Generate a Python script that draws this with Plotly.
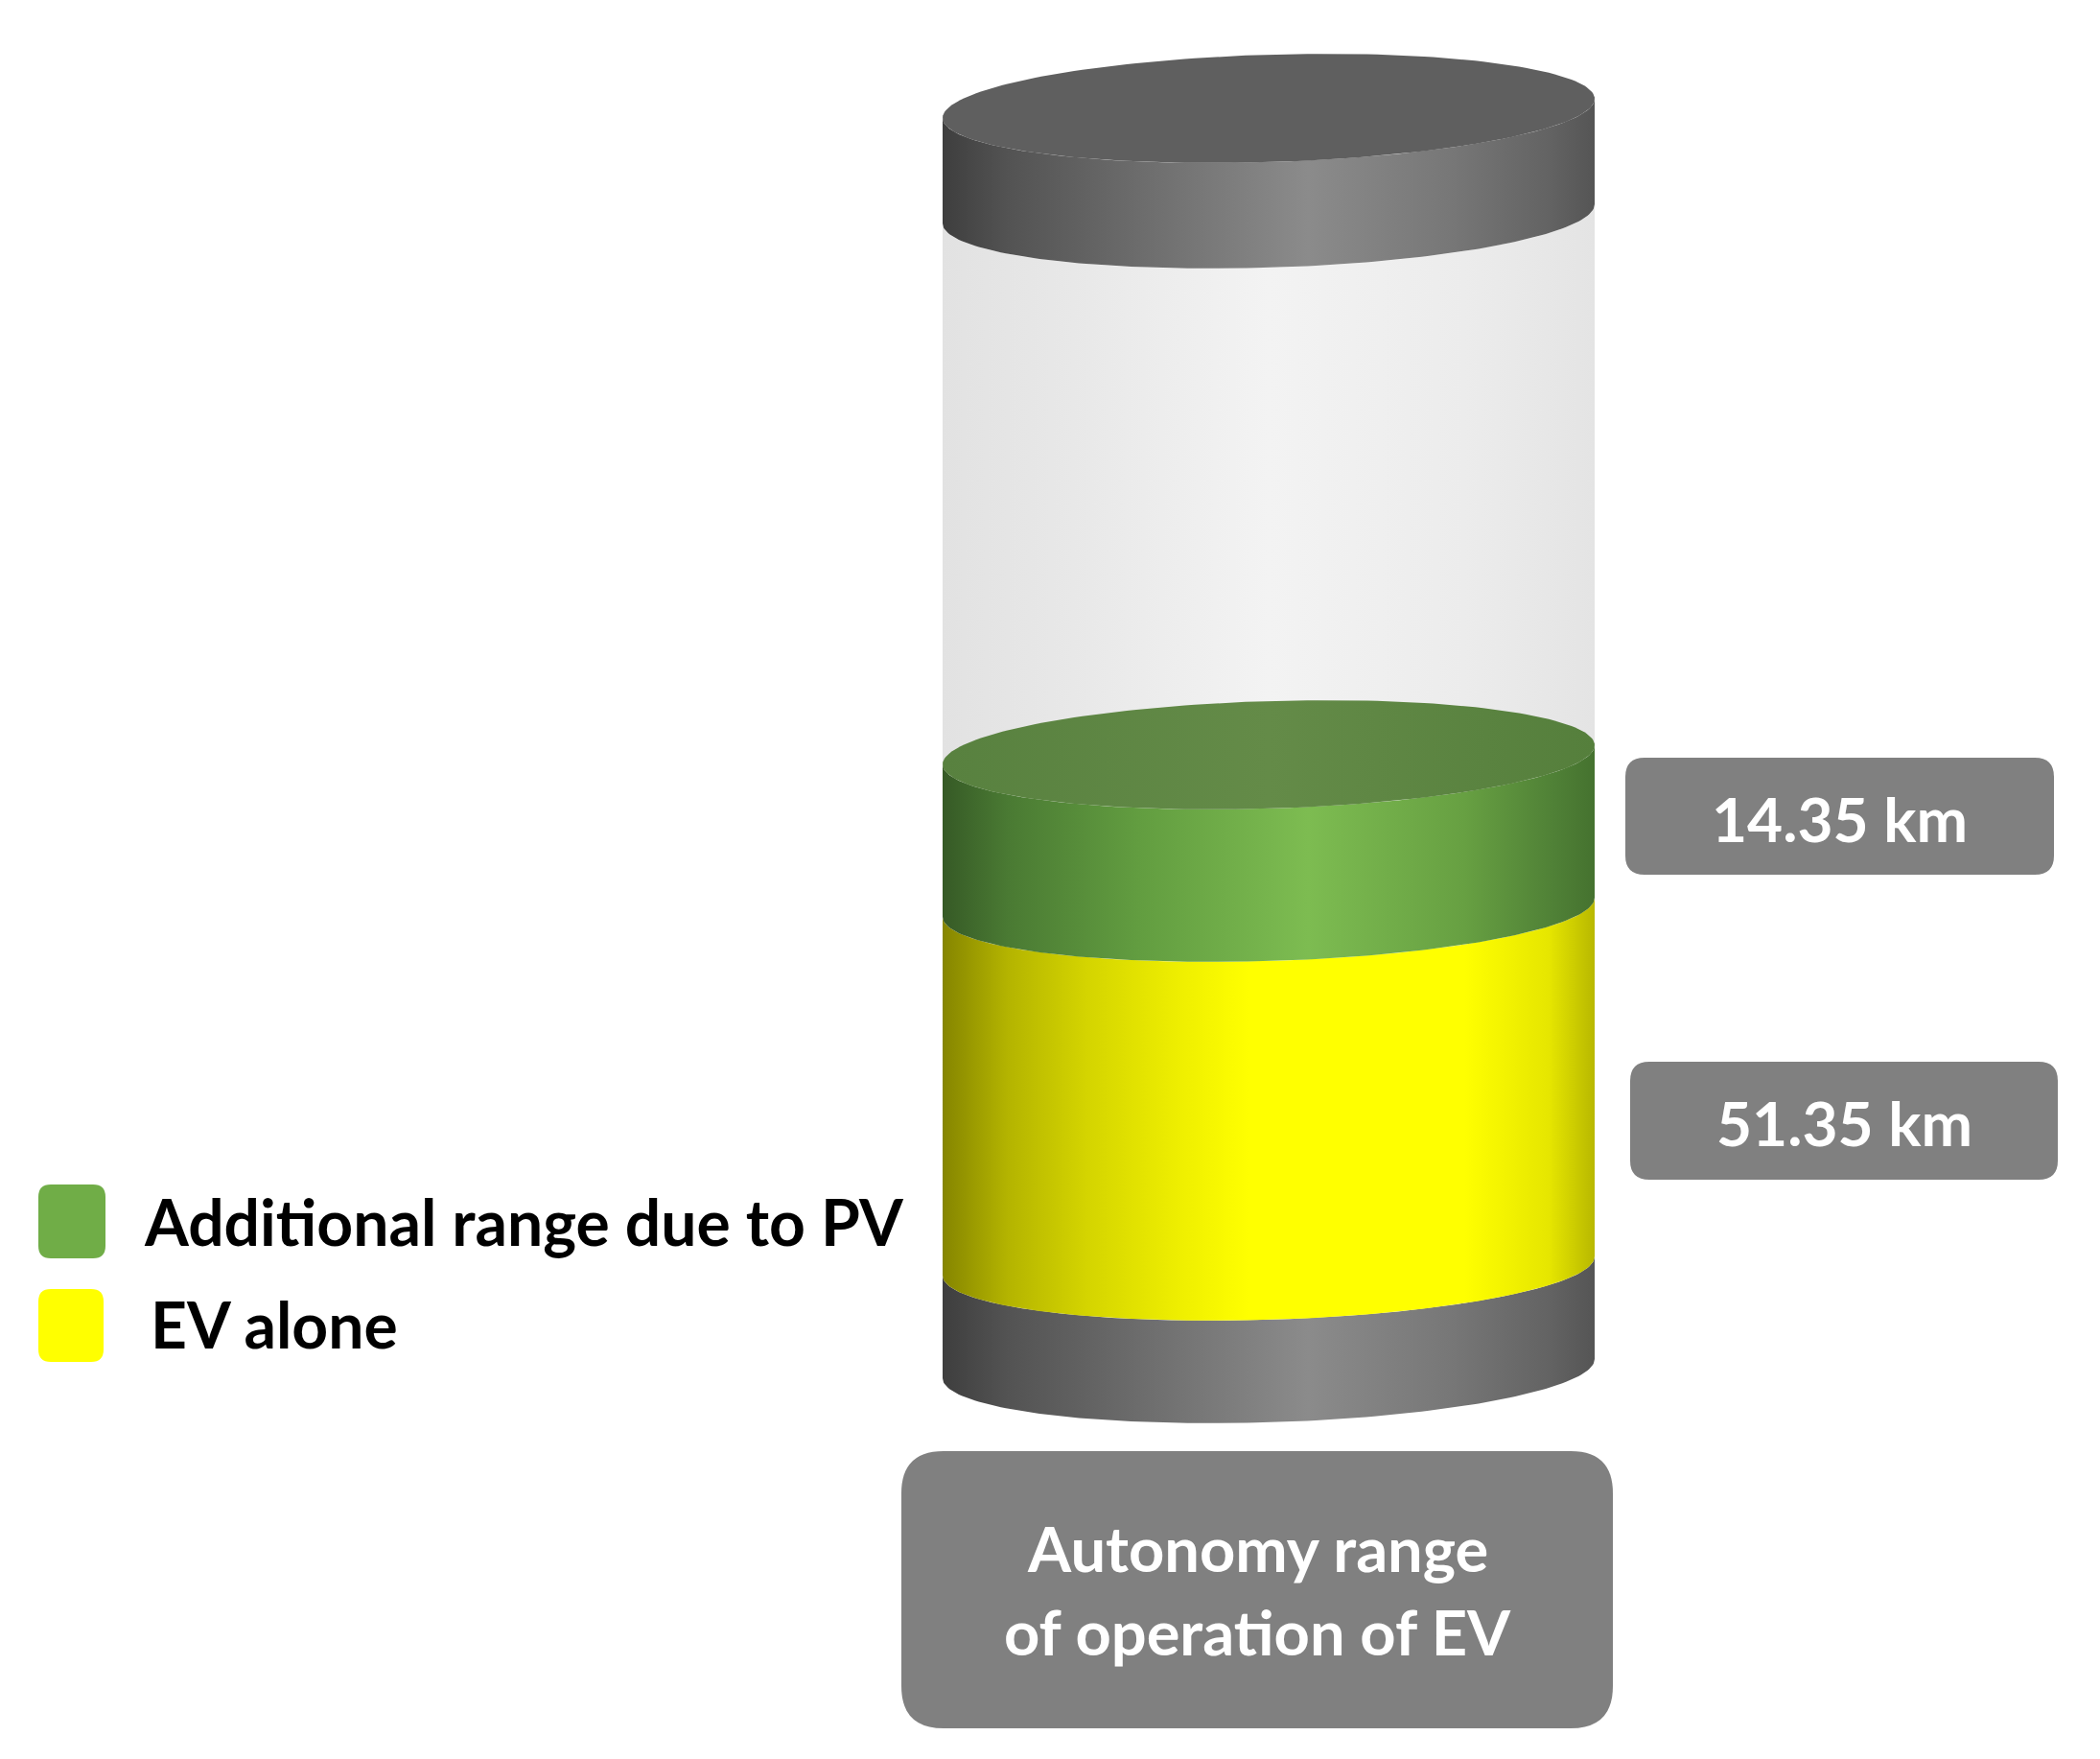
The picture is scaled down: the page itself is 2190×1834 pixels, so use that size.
import numpy as np
import plotly.graph_objects as go

# ---------------- data ----------------
segments = ["EV alone", "Additional range due to PV"]
range_km = [51.35, 14.35]
unit = "km"
axis_title = ["Autonomy range", "of operation of EV"]

# ---------------- layout constants (pixel space) ----------------
W, H = 2190, 1834
BODY_MARGIN = 8  # default page margin around the plot div
CX, RX, RY, TILT = 1323, 340, 56, 10
# centre-line levels of the cylinder parts (top to bottom)
LEV_CAP_TOP, LEV_CAP_BOT = 113, 223
LEV_GREEN_TOP, LEV_GREEN_BOT = 787, 946
LEV_YELLOW_BOT, LEV_BASE_BOT = 1320, 1427

FONT = "Lato"

GRAY_SIDE = [[0, "#3e3e3e"], [0.1, "#535353"], [0.3, "#6c6c6c"], [0.56, "#8b8b8b"],
             [0.78, "#777777"], [0.93, "#636363"], [1, "#555555"]]
GREEN_SIDE = [[0, "#365a26"], [0.1, "#4a7a33"], [0.3, "#629d40"], [0.56, "#7dbc51"],
              [0.8, "#67a042"], [0.94, "#4f8036"], [1, "#45722f"]]
YELLOW_SIDE = [[0, "#858500"], [0.1, "#b4b400"], [0.22, "#d4d400"], [0.36, "#eeee00"],
               [0.47, "#ffff00"], [0.8, "#ffff00"], [0.93, "#e6e600"], [1, "#b8b800"]]
GLASS = [[0, "#e2e2e2"], [0.2, "#e8e8e8"], [0.5, "#f3f3f3"], [0.8, "#ececec"], [1, "#e4e4e4"]]
GREEN_FACE = [[0, "#58813f"], [0.5, "#648b48"], [1, "#557f3c"]]


def arc(cy, t0, t1, n=120):
    t = np.linspace(t0, t1, n)
    x = CX + RX * np.cos(t)
    y = cy + RY * np.sin(t) - TILT * np.cos(t)
    return x, y


def band(cy_top, cy_bot):
    x1, y1 = arc(cy_top, np.pi, 0)
    x2, y2 = arc(cy_bot, 0, np.pi)
    return np.concatenate([x1, x2, x1[:1]]), np.concatenate([y1, y2, y1[:1]])


def face(cy):
    return arc(cy, 0, 2 * np.pi, 200)


fig = go.Figure()


def add_poly(xy, scale=None, color=None):
    x, y = xy
    kw = dict(x=x, y=y, mode="lines", fill="toself", line=dict(width=0),
              hoverinfo="skip", showlegend=False)
    if scale is not None:
        kw["fillgradient"] = dict(type="horizontal", colorscale=scale)
    else:
        kw["fillcolor"] = color
    fig.add_trace(go.Scatter(**kw))


# glass tube
gx1, gy1 = arc(LEV_CAP_BOT, np.pi, 0)
gx2, gy2 = arc(LEV_GREEN_TOP, 0, np.pi)
add_poly((np.concatenate([gx1, gx2, gx1[:1]]), np.concatenate([gy1, gy2, gy1[:1]])), GLASS)
# base cap
add_poly(band(LEV_YELLOW_BOT, LEV_BASE_BOT), GRAY_SIDE)
# EV alone (yellow)
add_poly(band(LEV_GREEN_BOT, LEV_YELLOW_BOT), YELLOW_SIDE)
# additional range due to PV (green)
add_poly(band(LEV_GREEN_TOP, LEV_GREEN_BOT), GREEN_SIDE)
add_poly(face(LEV_GREEN_TOP), GREEN_FACE)
# top cap
add_poly(band(LEV_CAP_TOP, LEV_CAP_BOT), GRAY_SIDE)
add_poly(face(LEV_CAP_TOP), None, "#5f5f5f")


def rrect(x0, y0, x1, y1, r):
    return (f"M{x0+r},{y0} L{x1-r},{y0} Q{x1},{y0} {x1},{y0+r} L{x1},{y1-r} "
            f"Q{x1},{y1} {x1-r},{y1} L{x0+r},{y1} Q{x0},{y1} {x0},{y1-r} "
            f"L{x0},{y0+r} Q{x0},{y0} {x0+r},{y0} Z")


shapes = []
annotations = []

# value boxes (green value on top, yellow below)
value_boxes = {segments[1]: (1695, 790, 2142, 912), segments[0]: (1700, 1107, 2146, 1230)}
for seg, val in zip(segments, range_km):
    x0, y0, x1, y1 = value_boxes[seg]
    shapes.append(dict(type="path", path=rrect(x0, y0, x1, y1, 20), xref="x", yref="y",
                       fillcolor="#808080", line=dict(width=0), layer="above"))
    annotations.append(dict(x=(x0 + x1) / 2, y=(y0 + y1) / 2 + 2, xref="x", yref="y",
                            text=f"{val:.2f} {unit}", showarrow=False,
                            xanchor="center", yanchor="middle",
                            font=dict(family=FONT, size=64, color="white", weight="bold")))

# bottom category box
bx0, by0, bx1, by1 = 940, 1513, 1682, 1802
shapes.append(dict(type="path", path=rrect(bx0, by0, bx1, by1, 44), xref="x", yref="y",
                   fillcolor="#808080", line=dict(width=0), layer="above"))
for i, line in enumerate(axis_title):
    annotations.append(dict(x=(bx0 + bx1) / 2, y=1614 + i * 87, xref="x", yref="y",
                            text=line, showarrow=False, xanchor="center", yanchor="middle",
                            font=dict(family=FONT, size=65, color="white", weight="bold")))

# legend
legend_colors = {segments[1]: "#70ad47", segments[0]: "#ffff00"}
legend_rows = {segments[1]: (40, 1235, 110, 1312, 148, 1273),
               segments[0]: (40, 1344, 108, 1420, 155, 1380)}
for seg in [segments[1], segments[0]]:
    x0, y0, x1, y1, tx, ty = legend_rows[seg]
    shapes.append(dict(type="path", path=rrect(x0, y0, x1, y1, 13), xref="x", yref="y",
                       fillcolor=legend_colors[seg], line=dict(width=0), layer="above"))
    annotations.append(dict(x=tx, y=ty, xref="x", yref="y", text=seg, showarrow=False,
                            xanchor="left", yanchor="middle",
                            font=dict(family=FONT, size=66, color="black", weight="bold")))

PW, PH = W - 2 * BODY_MARGIN, H - 2 * BODY_MARGIN
fig.update_layout(
    width=PW, height=PH, autosize=False,
    margin=dict(l=0, r=0, t=0, b=0, pad=0),
    paper_bgcolor="white", plot_bgcolor="white",
    xaxis=dict(range=[BODY_MARGIN, W - BODY_MARGIN], visible=False, fixedrange=True),
    yaxis=dict(range=[H - BODY_MARGIN, BODY_MARGIN], visible=False, fixedrange=True),
    shapes=shapes, annotations=annotations, showlegend=False,
)

fig.write_html("out.html")
